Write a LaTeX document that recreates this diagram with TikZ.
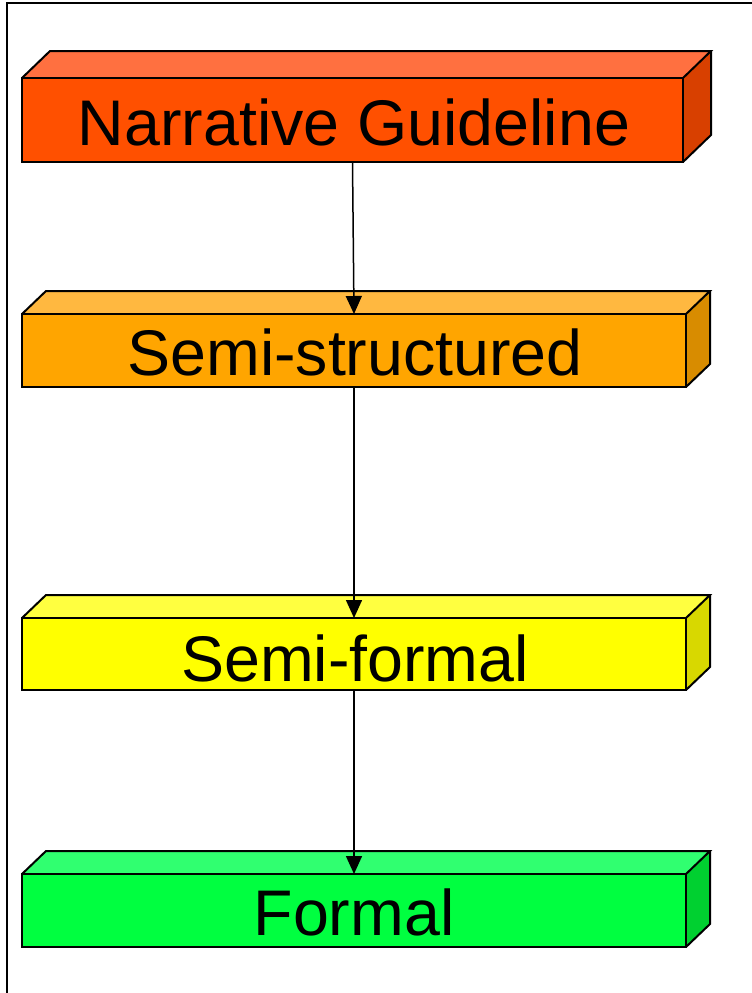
\documentclass[tikz,border=0pt]{standalone}
\usepackage{fontspec}
\setmainfont{Liberation Sans}
\usetikzlibrary{arrows.meta}
\definecolor{fA}{HTML}{FF5000}\definecolor{tA}{HTML}{FF7040}\definecolor{sA}{HTML}{D84000}
\definecolor{fB}{HTML}{FFA500}\definecolor{tB}{HTML}{FFB840}\definecolor{sB}{HTML}{D88C00}
\definecolor{fC}{HTML}{FFFF00}\definecolor{tC}{HTML}{FFFF40}\definecolor{sC}{HTML}{D8D800}
\definecolor{fD}{HTML}{00FF40}\definecolor{tD}{HTML}{30FF70}\definecolor{sD}{HTML}{00D030}
\tikzset{
  frontface/.style={draw=black, line width=2pt, inner sep=0pt, outer sep=0pt, rectangle},
  facepath/.style={draw=black, line width=2pt, line join=miter},
  lbl/.style={anchor=base, inner sep=0pt, font=\fontsize{64.5}{70}\selectfont},
  flow/.style={draw=black, line width=1.5pt, -{Triangle[length=18pt,width=16pt]}},
  frameline/.style={draw=black, line width=2.2pt}
}
\begin{document}
\begin{tikzpicture}[x=1pt,y=-1pt]
\useasboundingbox (0,0) rectangle (752,993);
\fill[white] (0,0) rectangle (752,993);
\coordinate (fa) at (7,993);
\coordinate (fb) at (7,3);
\coordinate (fc) at (752,3);
\draw[frameline] (fa) -- (fb) -- (fc);

\node[frontface, fill=fA, minimum width=661pt, minimum height=84pt] (n1) at (352.5,120) {};
\fill[tA] (n1.north west) -- ++(28,-27) -- ++(661,0) -- (n1.north east) -- cycle;
\fill[sA] (n1.north east) -- ++(28,-27) -- ++(0,84) -- (n1.south east) -- cycle;
\draw[facepath] (n1.north west) -- ++(28,-27) -- ++(661,0) -- (n1.north east);
\draw[facepath] ([shift={(28,-27)}]n1.north east) -- ++(0,84) -- (n1.south east);
\draw[frontface] (n1.north west) rectangle (n1.south east);

\node[frontface, fill=fB, minimum width=664pt, minimum height=73pt] (n2) at (354,350.5) {};
\fill[tB] (n2.north west) -- ++(24,-23) -- ++(664,0) -- (n2.north east) -- cycle;
\fill[sB] (n2.north east) -- ++(24,-23) -- ++(0,73) -- (n2.south east) -- cycle;
\draw[facepath] (n2.north west) -- ++(24,-23) -- ++(664,0) -- (n2.north east);
\draw[facepath] ([shift={(24,-23)}]n2.north east) -- ++(0,73) -- (n2.south east);
\draw[frontface] (n2.north west) rectangle (n2.south east);

\node[frontface, fill=fC, minimum width=664pt, minimum height=72pt] (n3) at (354,654) {};
\fill[tC] (n3.north west) -- ++(24,-23) -- ++(664,0) -- (n3.north east) -- cycle;
\fill[sC] (n3.north east) -- ++(24,-23) -- ++(0,72) -- (n3.south east) -- cycle;
\draw[facepath] (n3.north west) -- ++(24,-23) -- ++(664,0) -- (n3.north east);
\draw[facepath] ([shift={(24,-23)}]n3.north east) -- ++(0,72) -- (n3.south east);
\draw[frontface] (n3.north west) rectangle (n3.south east);

\node[frontface, fill=fD, minimum width=664pt, minimum height=73pt] (n4) at (354,910.5) {};
\fill[tD] (n4.north west) -- ++(24,-23) -- ++(664,0) -- (n4.north east) -- cycle;
\fill[sD] (n4.north east) -- ++(24,-23) -- ++(0,73) -- (n4.south east) -- cycle;
\draw[facepath] (n4.north west) -- ++(24,-23) -- ++(664,0) -- (n4.north east);
\draw[facepath] ([shift={(24,-23)}]n4.north east) -- ++(0,73) -- (n4.south east);
\draw[frontface] (n4.north west) rectangle (n4.south east);

\node[lbl] (l1) at (354,145) {Narrative Guideline};
\node[lbl] (l2) at (355,375) {Semi-structured};
\node[lbl] (l3) at (355,681) {Semi-formal};
\node[lbl] (l4) at (354,935) {Formal};

\draw[flow] (n1.south) -- (n2.north);
\draw[flow] (n2.south) -- (n3.north);
\draw[flow] (n3.south) -- (n4.north);
\end{tikzpicture}
\end{document}
